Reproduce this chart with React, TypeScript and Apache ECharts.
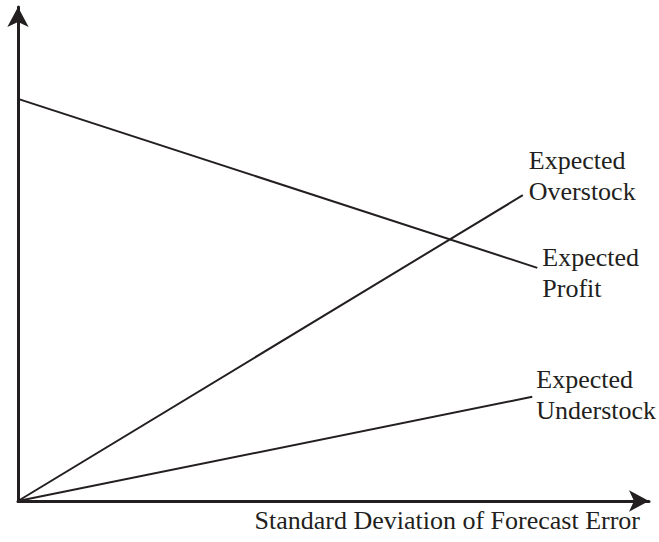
import React, { useEffect, useRef } from "react";
import * as echarts from "echarts";

// x: standard deviation of forecast error (arbitrary units 0..100)
// y: value (arbitrary units 0..100)
const profitX = [0, 82.3];
const profitY = [81.4, 47.2];
const overstockX = [0, 80.0];
const overstockY = [0, 61.9];
const understockX = [0, 81.5];
const understockY = [0, 21.1];

const profitLabel = "Expected\nProfit";
const overstockLabel = "Expected\nOverstock";
const understockLabel = "Expected\nUnderstock";
const xAxisTitle = "Standard Deviation of Forecast Error";

const INK = "#231f20";
const FONT = "'Liberation Serif', 'Times New Roman', serif";

function pairs(xs: number[], ys: number[]) {
  return xs.map((x, i) => [x, ys[i]]);
}

function lineSeries(name: string, xs: number[], ys: number[], label: string, distance: number, offsetY: number) {
  return {
    name,
    type: "line",
    data: pairs(xs, ys),
    symbol: "none",
    showSymbol: false,
    lineStyle: { color: INK, width: 2 },
    clip: false,
    endLabel: {
      show: true,
      formatter: () => label,
      distance,
      offset: [0, offsetY],
      color: INK,
      fontFamily: FONT,
      fontSize: 26,
      lineHeight: 31,
      align: "left",
    },
    z: 3,
  };
}

export default function App() {
  const ref = useRef<HTMLDivElement>(null);
  useEffect(() => {
    if (!ref.current) return;
    const chart = echarts.init(ref.current, null, { renderer: "svg" });
    chart.setOption({
      animation: false,
      backgroundColor: "#ffffff",
      grid: { left: 18, right: 10, top: 7, bottom: 41, containLabel: false },
      xAxis: {
        type: "value",
        min: 0,
        max: 100,
        name: xAxisTitle,
        nameLocation: "end",
        nameGap: -9,
        nameTextStyle: {
          color: INK,
          fontFamily: FONT,
          fontSize: 26,
          lineHeight: 26,
          align: "right",
          verticalAlign: "top",
          padding: [6, 0, 0, 0],
        },
        axisLine: {
          show: true,
          onZero: false,
          symbol: ["none", "arrow"],
          symbolSize: [16, 20],
          lineStyle: { color: INK, width: 3 },
        },
        axisTick: { show: false },
        axisLabel: { show: false },
        splitLine: { show: false },
      },
      yAxis: {
        type: "value",
        min: 0,
        max: 100,
        axisLine: {
          show: true,
          onZero: false,
          symbol: ["none", "arrow"],
          symbolSize: [16, 20],
          lineStyle: { color: INK, width: 3 },
        },
        axisTick: { show: false },
        axisLabel: { show: false },
        splitLine: { show: false },
      },
      series: [
        lineSeries("Expected Profit", profitX, profitY, profitLabel, 5, 5),
        lineSeries("Expected Overstock", overstockX, overstockY, overstockLabel, 6, -19),
        lineSeries("Expected Understock", understockX, understockY, understockLabel, 4, -2),
      ],
    });
    return () => chart.dispose();
  }, []);
  return (
    <div
      ref={ref}
      style={{ position: "absolute", left: 0, top: 0, width: 659, height: 542 }}
    />
  );
}
